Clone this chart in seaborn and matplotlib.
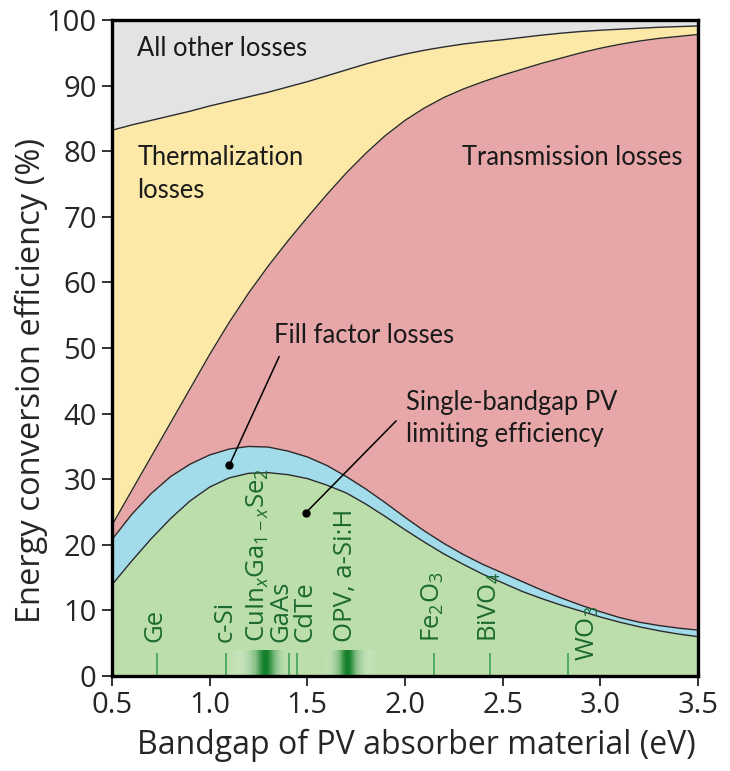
import numpy as np
import matplotlib
matplotlib.use("Agg")
import matplotlib.pyplot as plt
import seaborn as sns

# ---------------- data ----------------
bandgap = [0.5, 0.6, 0.7, 0.8, 0.9, 1.0, 1.1, 1.2, 1.3, 1.4, 1.5, 1.6, 1.7, 1.8, 1.9,
           2.0, 2.1, 2.2, 2.3, 2.4, 2.5, 2.6, 2.7, 2.8, 2.9, 3.0, 3.1, 3.2, 3.3, 3.4, 3.5]
sq_limit = [13.9, 17.5, 20.9, 24.0, 26.7, 28.8, 30.2, 30.9, 31.0, 30.7, 30.1, 29.1, 27.9, 26.2, 24.3,
            22.3, 20.4, 18.6, 17.0, 15.5, 14.2, 12.9, 11.8, 10.8, 9.9, 9.0, 8.2, 7.5, 6.9, 6.4, 6.0]
fill_factor_top = [20.8, 24.6, 27.8, 30.4, 32.3, 33.7, 34.6, 35.0, 34.9, 34.3, 33.4, 32.1, 30.4, 28.5, 26.4,
                   24.2, 22.1, 20.2, 18.5, 17.0, 15.7, 14.4, 13.1, 11.9, 10.8, 9.8, 8.9, 8.2, 7.7, 7.3, 7.0]
transmission_top = [23.0, 28.2, 33.4, 38.6, 43.8, 49.0, 53.9, 58.4, 62.5, 66.3, 69.9, 73.4, 76.7, 79.7, 82.4,
                    84.7, 86.6, 88.2, 89.5, 90.6, 91.6, 92.5, 93.4, 94.2, 95.0, 95.7, 96.3, 96.8, 97.2, 97.5, 97.8]
thermal_top = [83.2, 84.0, 84.7, 85.4, 86.1, 86.9, 87.6, 88.3, 89.0, 89.8, 90.6, 91.5, 92.4, 93.3, 94.1,
               94.8, 95.4, 95.9, 96.35, 96.7, 97.0, 97.35, 97.7, 98.0, 98.25, 98.45, 98.6, 98.75, 98.9, 99.0, 99.1]

material_gaps = [0.73, 1.085, 1.408, 1.447, 2.147, 2.435, 2.837]
band_ranges = [(1.088, 1.41), (1.58, 1.86)]
band_peaks = [1.285, 1.705]

label_texts = ["Ge", "c-Si",
               "CuIn$_\\mathit{x}$Ga$_{\\mathregular{1-}\\mathit{x}}$Se$_\\mathregular{2}$",
               "GaAs", "CdTe", "OPV, a-Si:H",
               "Fe$_\\mathregular{2}$O$_\\mathregular{3}$",
               "BiVO$_\\mathregular{4}$", "WO$_\\mathregular{3}$"]
label_x = [0.72, 1.078, 1.247, 1.367, 1.487, 1.696, 2.144, 2.433, 2.935]
label_y = [5.2, 5.2, 5.2, 5.2, 5.2, 5.2, 5.2, 5.2, 2.3]

x_ticks = [0.5, 1.0, 1.5, 2.0, 2.5, 3.0, 3.5]
y_ticks = [0, 10, 20, 30, 40, 50, 60, 70, 80, 90, 100]

# ---------------- style ----------------
sns.set_style("ticks")
plt.rcParams['font.family'] = ['Open Sans', 'DejaVu Sans']
plt.rcParams['mathtext.fontset'] = 'custom'
plt.rcParams['mathtext.rm'] = 'Open Sans'
plt.rcParams['mathtext.it'] = 'Open Sans:italic'

c_gray = "#e3e3e3"
c_yellow = "#fce9a7"
c_pink = "#e7a6a8"
c_blue = "#a2dbe9"
c_green = "#bcdeab"
c_edge = "#2b2b2b"
c_dkgreen = "#1c6a31"
c_tick = "#3fa25a"

fig = plt.figure(figsize=(7.3, 7.71), dpi=100)
ax = fig.add_axes([0.1534, 0.1232, 0.8027, 0.8508])

x = np.array(bandgap)
ax.fill_between(x, 0, sq_limit, color=c_green, lw=0, zorder=1)
ax.fill_between(x, sq_limit, fill_factor_top, color=c_blue, lw=0, zorder=1)
ax.fill_between(x, fill_factor_top, transmission_top, color=c_pink, lw=0, zorder=1)
ax.fill_between(x, transmission_top, thermal_top, color=c_yellow, lw=0, zorder=1)
ax.fill_between(x, thermal_top, 100, color=c_gray, lw=0, zorder=1)

for curve in (sq_limit, fill_factor_top, transmission_top, thermal_top):
    sns.lineplot(x=bandgap, y=curve, ax=ax, color=c_edge, lw=1.0, zorder=3)

# gradient bands
light = np.array([0.83, 0.92, 0.80])
dark = np.array([0.07, 0.50, 0.16])
for (lo, hi), pk in zip(band_ranges, band_peaks):
    xs = np.linspace(lo, hi, 300)
    w = np.exp(-((xs - pk) / ((hi - lo) * 0.22)) ** 2)
    img = np.zeros((1, len(xs), 4))
    img[0, :, :3] = light[None, :] * (1 - w[:, None]) + dark[None, :] * w[:, None]
    edge = np.clip(np.minimum(xs - lo, hi - xs) / ((hi - lo) * 0.2), 0, 1)
    img[0, :, 3] = np.maximum(0.6 * edge, w)
    ax.imshow(img, extent=(lo, hi, 0, 3.9), aspect='auto', zorder=2, interpolation='bilinear')

ax.vlines(material_gaps, 0, 3.5, color=c_tick, lw=1.2, zorder=3)

for t, xx, yy in zip(label_texts, label_x, label_y):
    ax.text(xx, yy, t, rotation=90, rotation_mode='anchor', ha='left', va='center',
            fontsize=18.5, color=c_dkgreen, zorder=4)

# annotations
afont = dict(fontsize=18.4, color="#1a1a1a", family=['Lato', 'DejaVu Sans'])
ax.text(0.63, 95.7, "All other losses", va='center', ha='left', **afont)
ax.text(0.63, 79.0, "Thermalization", va='center', ha='left', **afont)
ax.text(0.63, 74.0, "losses", va='center', ha='left', **afont)
ax.text(2.29, 79.0, "Transmission losses", va='center', ha='left', **afont)
ax.text(1.33, 51.9, "Fill factor losses", va='center', ha='left', **afont)
ax.text(2.005, 41.7, "Single-bandgap PV", va='center', ha='left', **afont)
ax.text(2.005, 36.8, "limiting efficiency", va='center', ha='left', **afont)

ax.plot([1.356, 1.10], [48.7, 32.1], color='black', lw=1.1, zorder=5)
ax.plot([1.10], [32.1], 'o', color='black', ms=5, zorder=5)
ax.plot([1.955, 1.493], [38.9, 24.9], color='black', lw=1.1, zorder=5)
ax.plot([1.493], [24.9], 'o', color='black', ms=5, zorder=5)

ax.set_xlim(0.5, 3.5)
ax.set_ylim(0, 100)
ax.set_xticks(x_ticks)
ax.set_xticklabels([f"{v:.1f}" for v in x_ticks])
ax.set_yticks(y_ticks)
ax.set_yticklabels([str(v) for v in y_ticks])
ax.tick_params(axis='both', direction='out', length=7, width=1.3, labelsize=21, pad=4, color='#222')
for s in ax.spines.values():
    s.set_linewidth(2.4)
    s.set_color('black')
    s.set_zorder(6)
ax.set_xlabel("Bandgap of PV absorber material (eV)", fontsize=23)
ax.set_ylabel("Energy conversion efficiency (%)", fontsize=23.5)
ax.xaxis.label.set_va('center')
ax.yaxis.label.set_va('center')
ax.xaxis.set_label_coords(0.519, -0.105)
ax.yaxis.set_label_coords(-0.138, 0.45)

fig.savefig("out.png", dpi=100)
